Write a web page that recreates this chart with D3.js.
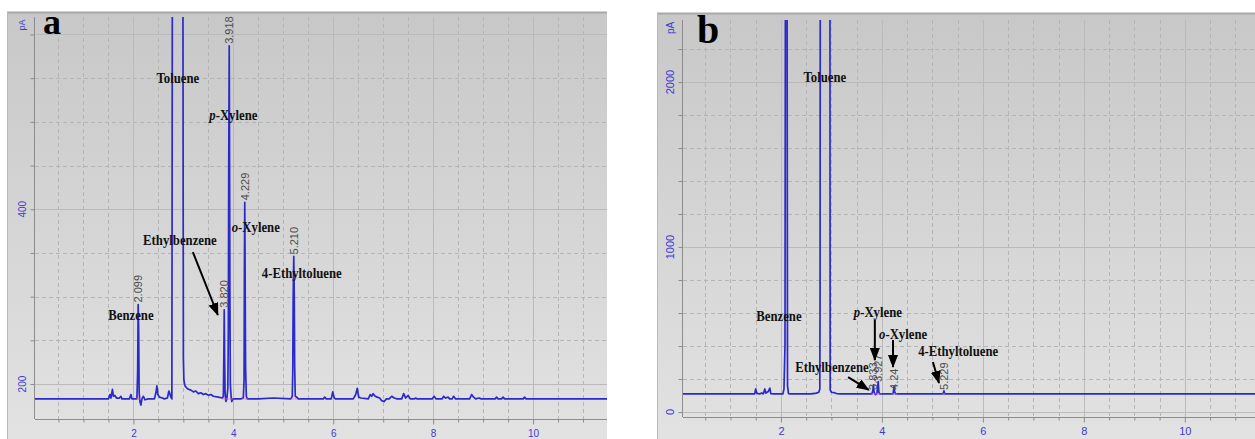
<!DOCTYPE html>
<html>
<head>
<meta charset="utf-8">
<script src="https://cdn.jsdelivr.net/npm/d3@7"></script>
<style>
    body { margin: 0; background: white; }
    svg { display: block; }
    .tick-label { font-family: 'Liberation Sans', Arial, sans-serif; fill: #3b3bd4; }
    .compound { font-family: 'Liberation Serif', 'Times New Roman', serif; font-weight: bold; font-size: 15px; fill: #111; }
    .rt { font-family: 'Liberation Sans', Arial, sans-serif; font-size: 11px; fill: #4d4d4d; }
    .letter { font-family: 'Liberation Serif', 'Times New Roman', serif; font-weight: bold; fill: #000; }
</style>
</head>
<body>
<div id="chart"></div>
<script>
// chromatogram traces, [retention time (min), signal (pA)]
var traceA = [
    [0.03, 183], [1.5, 183], [1.53, 188], [1.55, 184], [1.58, 194], [1.6, 186], [1.63, 187], [1.66, 184],
    [1.72, 184], [1.75, 186], [1.77, 183], [1.92, 183], [1.95, 188], [1.97, 183], [2.07, 183], [2.085, 215],
    [2.095, 291], [2.105, 260], [2.115, 190], [2.13, 180], [2.15, 176], [2.17, 183], [2.2, 186], [2.23, 182],
    [2.3, 183], [2.42, 183], [2.45, 190], [2.47, 198], [2.49, 188], [2.52, 185], [2.58, 184], [2.62, 183],
    [2.68, 184], [2.71, 192], [2.73, 189], [2.75, 185], [2.77, 183], [2.78, 700], [2.99, 700], [3.0, 230],
    [3.01, 205], [3.03, 198], [3.06, 196], [3.1, 194], [3.15, 193], [3.2, 191], [3.25, 192], [3.3, 189],
    [3.35, 190], [3.4, 188], [3.45, 189], [3.5, 187], [3.55, 188], [3.6, 186], [3.7, 185], [3.78, 184],
    [3.8, 186], [3.81, 230], [3.818, 285], [3.826, 230], [3.835, 190], [3.85, 180], [3.87, 183], [3.89, 195],
    [3.9, 260], [3.908, 450], [3.918, 587], [3.925, 450], [3.932, 300], [3.94, 200], [3.955, 186], [3.97, 180],
    [3.99, 183], [4.15, 183], [4.2, 184], [4.215, 205], [4.222, 333], [4.229, 408], [4.235, 340], [4.245, 220],
    [4.26, 186], [4.28, 183], [4.5, 183], [4.8, 184], [5.15, 183], [5.18, 186], [5.19, 215], [5.198, 300],
    [5.21, 346], [5.22, 300], [5.228, 220], [5.24, 186], [5.27, 185], [5.3, 183], [5.8, 183], [5.83, 185],
    [5.86, 183], [5.96, 183], [5.99, 191], [6.02, 184], [6.05, 183], [6.4, 183], [6.45, 188], [6.48, 195],
    [6.51, 185], [6.55, 184], [6.7, 183], [6.74, 188], [6.77, 186], [6.8, 189], [6.84, 186], [6.88, 185],
    [6.93, 184], [6.97, 181], [7.02, 180], [7.06, 183], [7.12, 183], [7.17, 186], [7.22, 184], [7.28, 183],
    [7.37, 183], [7.41, 189], [7.45, 184], [7.5, 187], [7.54, 183], [7.62, 183], [7.65, 184], [7.68, 183],
    [7.98, 183], [8.02, 186], [8.06, 183], [8.18, 183], [8.21, 186], [8.25, 184], [8.3, 185], [8.33, 183],
    [8.38, 183], [8.41, 186], [8.45, 183], [8.73, 183], [8.77, 188], [8.81, 185], [8.85, 183], [8.92, 184],
    [8.96, 183], [9.24, 183], [9.27, 185], [9.3, 183], [9.37, 183], [9.4, 185], [9.43, 183], [9.8, 183],
    [9.83, 185], [9.86, 183], [11.48, 183]
]

var traceB = [
    [0.06, 110], [1.48, 110], [1.5, 140], [1.52, 115], [1.55, 112], [1.58, 110], [1.62, 115], [1.65, 110],
    [1.68, 140], [1.7, 115], [1.75, 125], [1.78, 145], [1.8, 112], [1.85, 110], [2.04, 110], [2.06, 140],
    [2.08, 400], [2.09, 3000], [2.12, 3000], [2.13, 160], [2.15, 112], [2.2, 110], [2.6, 110], [2.7, 115],
    [2.75, 120], [2.77, 140], [2.775, 700], [2.78, 3000], [2.97, 3000], [2.975, 135], [3.0, 120], [3.05, 118],
    [3.1, 112], [3.2, 110], [3.8, 110], [3.82, 130], [3.833, 165], [3.845, 120], [3.87, 105], [3.9, 112],
    [3.915, 150], [3.927, 185], [3.94, 120], [3.96, 108], [3.98, 110], [4.22, 110], [4.235, 140], [4.24, 155],
    [4.25, 125], [4.27, 110], [5.21, 110], [5.229, 128], [5.245, 110], [11.39, 110]
]

// retention time labels and the signal level where each label starts
var retentionA = ['2.099', '3.820', '3.918', '4.229', '5.210']
var labelLevelA = [291, 285, 587, 408, 346]
var retentionB = ['3.833', '3.927', '4.24', '5.229']
var labelLevelB = [134, 182, 134, 134]

// integration marks at peak bases
var baseMarksA = [2.08, 2.13, 3.8, 3.86, 3.9, 3.97, 4.21, 4.27, 5.18, 5.25]
var baseMarksB = [3.82, 3.87, 3.92, 3.96, 4.22, 4.27, 5.22]

// compound names, placed at [time, pA]
var compoundsA = ['Toluene', 'p-Xylene', 'o-Xylene', 'Ethylbenzene', 'Benzene', '4-Ethyltoluene']
var compoundPosA = [[2.89, 551], [4.0, 508], [4.45, 380], [2.93, 365], [1.95, 279], [5.37, 327]]
var arrowsA = [[3.19, 351, 3.69, 279]]

var compoundsB = ['Toluene', 'Benzene', 'p-Xylene', 'o-Xylene', '4-Ethyltoluene', 'Ethylbenzene']
var compoundPosB = [[2.87, 2030], [1.96, 582], [3.92, 606], [4.42, 473], [5.51, 370], [3.01, 273]]
var arrowsB = [[3.86, 558, 3.86, 315], [4.22, 437, 4.22, 273], [3.33, 212, 3.74, 134], [5.01, 303, 5.13, 176]]

// axis ticks
var xMinorTicks = d3.range(0.5, 11.01, 0.5)
var xLabelTicks = [2, 4, 6, 8, 10]
var yMinorTicksA = d3.range(200, 601, 50)
var yLabelTicksA = [200, 400]
var yMinorTicksB = d3.range(0, 2201, 200)
var yLabelTicksB = [0, 1000, 2000]

var width = 1255, height = 439

var svg = d3.select('#chart').append('svg')
    .attr('width', width)
    .attr('height', height)

var defs = svg.append('defs')
var grad = defs.append('linearGradient')
    .attr('id', 'bg')
    .attr('x1', 0).attr('y1', 0).attr('x2', 0).attr('y2', 1)
grad.append('stop').attr('offset', '0%').attr('stop-color', '#c8c8c8')
grad.append('stop').attr('offset', '100%').attr('stop-color', '#e2e2e2')

defs.append('marker')
    .attr('id', 'head')
    .attr('markerUnits', 'userSpaceOnUse')
    .attr('markerWidth', 13)
    .attr('markerHeight', 10)
    .attr('refX', 12)
    .attr('refY', 5)
    .attr('orient', 'auto')
    .append('path')
    .attr('d', 'M0,0 L13,5 L0,10 Z')
    .attr('fill', '#000')

drawPanel({
    id: 'a', letter: 'a', letterX: 43, letterY: 34, letterSize: 36,
    frame: { x: 7, y: 12, w: 600, h: 427 },
    plot: { left: 35, top: 17, right: 607, bottom: 419 },
    xDomain: [0.03, 11.48], yDomain: [160, 620],
    yMinor: yMinorTicksA, yLabels: yLabelTicksA, yMajor: [200, 400, 600],
    labelX: 22, pAY: 25, fontSize: 10,
    trace: traceA, baseline: 183, baseMarks: baseMarksA,
    retention: retentionA, labelLevel: labelLevelA, rtOffset: 2,
    compounds: compoundsA, compoundPos: compoundPosA, arrows: arrowsA
})

drawPanel({
    id: 'b', letter: 'b', letterX: 697, letterY: 43, letterSize: 40,
    frame: { x: 657, y: 13, w: 598, h: 426 },
    plot: { left: 683, top: 20, right: 1255, bottom: 417 },
    xDomain: [0.06, 11.39], yDomain: [-30, 2376],
    yMinor: yMinorTicksB, yLabels: yLabelTicksB, yMajor: [0, 1000, 2000],
    labelX: 670, pAY: 28, fontSize: 11,
    trace: traceB, baseline: 110, baseMarks: baseMarksB,
    retention: retentionB, labelLevel: labelLevelB, rtOffset: 0,
    compounds: compoundsB, compoundPos: compoundPosB, arrows: arrowsB
})

function drawPanel(cfg) {
    var p = cfg.plot
    var x = d3.scaleLinear().domain(cfg.xDomain).range([p.left, p.right])
    var y = d3.scaleLinear().domain(cfg.yDomain).range([p.bottom, p.top])

    var g = svg.append('g').attr('id', 'panel-' + cfg.id)

    // frame
    g.append('rect')
        .attr('x', cfg.frame.x).attr('y', cfg.frame.y)
        .attr('width', cfg.frame.w).attr('height', cfg.frame.h)
        .attr('fill', 'url(#bg)')
    g.append('line')
        .attr('x1', cfg.frame.x).attr('x2', cfg.frame.x + cfg.frame.w)
        .attr('y1', cfg.frame.y + 0.5).attr('y2', cfg.frame.y + 0.5)
        .attr('stroke', '#a8a8a8').attr('stroke-width', 2)
    g.append('line')
        .attr('x1', cfg.frame.x + 0.5).attr('x2', cfg.frame.x + 0.5)
        .attr('y1', cfg.frame.y).attr('y2', cfg.frame.y + cfg.frame.h)
        .attr('stroke', '#b8b8b8')

    // grid
    var grid = g.append('g').attr('id', 'grid-' + cfg.id)
    grid.selectAll('.vx')
        .data(xMinorTicks.filter(function (d) { return x(d) < p.right - 1 }))
        .enter().append('line')
        .attr('x1', function (d) { return Math.round(x(d)) + 0.5 })
        .attr('x2', function (d) { return Math.round(x(d)) + 0.5 })
        .attr('y1', p.top).attr('y2', p.bottom)
        .attr('stroke', function (d) { return d % 2 === 0 ? '#bababa' : '#b5b5b5' })
        .attr('stroke-dasharray', function (d) { return d % 2 === 0 ? null : '4,3' })
    grid.selectAll('.hy')
        .data(cfg.yMinor)
        .enter().append('line')
        .attr('x1', p.left).attr('x2', p.right)
        .attr('y1', function (d) { return Math.round(y(d)) + 0.5 })
        .attr('y2', function (d) { return Math.round(y(d)) + 0.5 })
        .attr('stroke', function (d) { return cfg.yMajor.indexOf(d) >= 0 ? '#bababa' : '#b5b5b5' })
        .attr('stroke-dasharray', function (d) { return cfg.yMajor.indexOf(d) >= 0 ? null : '4,3' })

    // axes
    var xAxis = g.append('g')
        .attr('transform', 'translate(0,' + (p.bottom + 0.5) + ')')
        .call(d3.axisBottom(x)
            .tickValues(xMinorTicks)
            .tickSize(3)
            .tickPadding(7)
            .tickFormat(function (d) { return xLabelTicks.indexOf(d) >= 0 ? d : '' }))
    xAxis.select('.domain').attr('stroke', '#8c8c8c').attr('d', 'M' + p.left + ',0H' + p.right)
    xAxis.selectAll('.tick line').attr('stroke', '#8c8c8c')
        .attr('y2', function (d) { return xLabelTicks.indexOf(d) >= 0 ? 5 : 3 })
    xAxis.selectAll('.tick text')
        .attr('class', 'tick-label')
        .attr('font-size', cfg.fontSize)
        .attr('font-family', null)
        .attr('fill', null)

    var yAxis = g.append('g')
        .attr('transform', 'translate(' + (p.left - 0.5) + ',0)')
        .call(d3.axisLeft(y).tickValues(cfg.yMinor).tickSize(4).tickFormat(''))
    yAxis.select('.domain').attr('stroke', '#8c8c8c').attr('d', 'M0,' + p.top + 'V' + p.bottom)
    yAxis.selectAll('.tick line').attr('stroke', '#8c8c8c')

    g.selectAll('.ylabel')
        .data(cfg.yLabels)
        .enter().append('text')
        .attr('class', 'tick-label')
        .attr('font-size', cfg.fontSize)
        .attr('text-anchor', 'middle')
        .attr('dy', '0.35em')
        .attr('transform', function (d) { return 'translate(' + cfg.labelX + ',' + y(d) + ') rotate(-90)' })
        .text(function (d) { return d })

    g.append('text')
        .attr('class', 'tick-label')
        .attr('font-size', cfg.fontSize - 1)
        .attr('text-anchor', 'middle')
        .attr('dy', '0.35em')
        .attr('transform', 'translate(' + cfg.labelX + ',' + cfg.pAY + ') rotate(-90)')
        .text('pA')

    // signal
    var clipId = 'clip-' + cfg.id
    defs.append('clipPath').attr('id', clipId)
        .append('rect')
        .attr('x', p.left).attr('y', p.top)
        .attr('width', p.right - p.left).attr('height', p.bottom - p.top)

    var line = d3.line()
        .x(function (d) { return x(d[0]) })
        .y(function (d) { return y(d[1]) })

    g.append('path')
        .datum(cfg.trace)
        .attr('clip-path', 'url(#' + clipId + ')')
        .attr('d', line)
        .attr('fill', 'none')
        .attr('stroke', '#2a2acc')
        .attr('stroke-width', 1.7)
        .attr('stroke-linejoin', 'round')

    g.selectAll('.mark')
        .data(cfg.baseMarks)
        .enter().append('line')
        .attr('x1', function (d) { return x(d) - 1.5 })
        .attr('x2', function (d) { return x(d) + 1.5 })
        .attr('y1', y(cfg.baseline))
        .attr('y2', y(cfg.baseline))
        .attr('stroke', '#e060c8')
        .attr('stroke-opacity', 0.7)
        .attr('stroke-width', 1)

    // retention times
    g.selectAll('.rt')
        .data(cfg.retention)
        .enter().append('text')
        .attr('class', 'rt')
        .attr('dy', '0.35em')
        .attr('transform', function (d, i) {
            return 'translate(' + x(+d) + ',' + (y(cfg.labelLevel[i]) - cfg.rtOffset) + ') rotate(-90)'
        })
        .text(function (d) { return d })

    // compound names
    g.selectAll('.compound')
        .data(cfg.compounds)
        .enter().append('text')
        .attr('class', 'compound')
        .attr('text-anchor', 'middle')
        .attr('dy', '0.35em')
        .attr('transform', function (d, i) {
            var pos = cfg.compoundPos[i]
            return 'translate(' + x(pos[0]) + ',' + y(pos[1]) + ') scale(0.85,1)'
        })
        .each(function (d) {
            var t = d3.select(this)
            var m = d.match(/^([po])-(.*)$/)
            if (m) {
                t.append('tspan').attr('font-style', 'italic').text(m[1])
                t.append('tspan').text('-' + m[2])
            }
            else t.text(d)
        })

    g.selectAll('.arrow')
        .data(cfg.arrows)
        .enter().append('line')
        .attr('x1', function (d) { return x(d[0]) })
        .attr('y1', function (d) { return y(d[1]) })
        .attr('x2', function (d) { return x(d[2]) })
        .attr('y2', function (d) { return y(d[3]) })
        .attr('stroke', '#000')
        .attr('stroke-width', 2)
        .attr('marker-end', 'url(#head)')

    g.append('text')
        .attr('class', 'letter')
        .attr('font-size', cfg.letterSize)
        .attr('x', cfg.letterX)
        .attr('y', cfg.letterY)
        .text(cfg.letter)
}
</script>
</body>
</html>
